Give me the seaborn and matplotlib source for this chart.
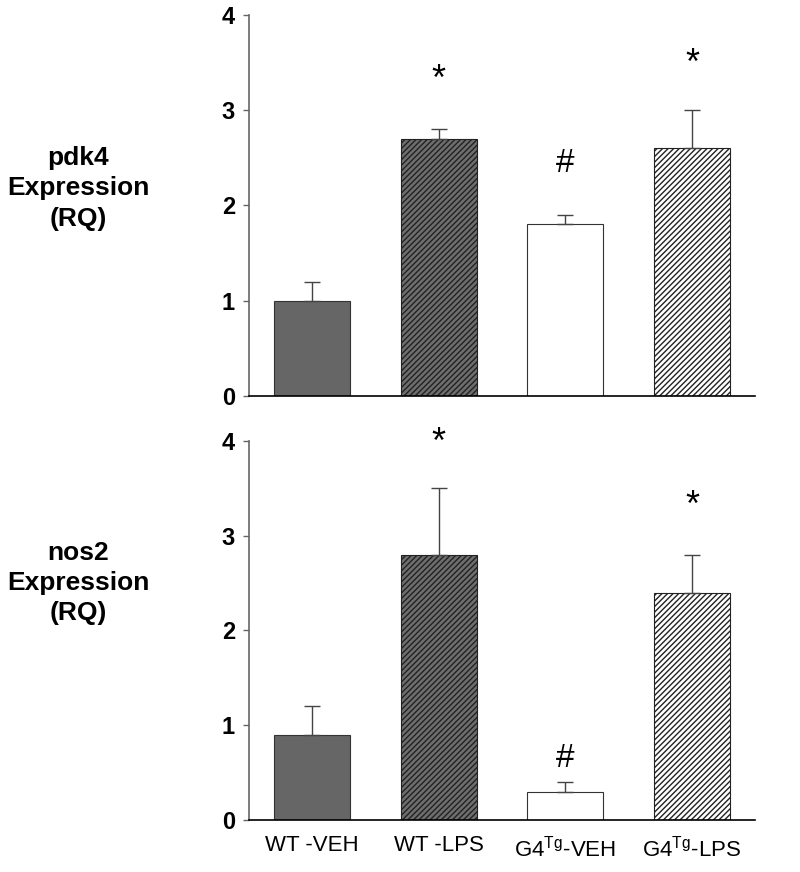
import numpy as np
import pandas as pd
import seaborn as sns
import matplotlib.pyplot as plt

groups = ["WT -VEH", "WT -LPS", r"G4$^{\mathregular{Tg}}$-VEH", r"G4$^{\mathregular{Tg}}$-LPS"]

pdk4_mean = [1.0, 2.7, 1.8, 2.6]
pdk4_sem = [0.2, 0.1, 0.1, 0.4]
pdk4_marks = ["", "*", "#", "*"]
pdk4_mark_y = [0, 3.21, 2.35, 3.38]

nos2_mean = [0.9, 2.8, 0.3, 2.4]
nos2_sem = [0.3, 0.7, 0.1, 0.4]
nos2_marks = ["", "*", "#", "*"]
nos2_mark_y = [0, 3.87, 0.56, 3.21]

bar_colors = ["#666666", "#6e6e6e", "white", "white"]
bar_hatches = [None, "//////", None, "//////"]

sns.set_style("ticks")
plt.rcParams['font.family'] = ['Liberation Sans', 'DejaVu Sans']
plt.rcParams['mathtext.fontset'] = 'custom'
plt.rcParams['mathtext.rm'] = 'Liberation Sans'
plt.rcParams['hatch.linewidth'] = 1.0
plt.rcParams['text.color'] = 'black'
plt.rcParams['xtick.labelcolor'] = 'black'
plt.rcParams['ytick.labelcolor'] = 'black'

fig = plt.figure(figsize=(8, 8.72), dpi=100)
ax1 = fig.add_axes([0.311, 0.5459, 0.633, 0.4371])
ax2 = fig.add_axes([0.311, 0.0596, 0.633, 0.4347])


def panel(ax, mean, sem, marks, mark_y, label, label_y, show_x):
    df = pd.DataFrame({"group": groups, "value": mean})
    sns.barplot(data=df, x="group", y="value", hue="group", palette=bar_colors,
                legend=False, width=0.6, edgecolor="#333333", linewidth=0.8,
                saturation=1, ax=ax)
    for patch, h in zip(ax.patches, bar_hatches):
        if h:
            patch.set_hatch(h)
            patch.set_edgecolor("#222222")
    x = np.arange(len(groups))
    ax.errorbar(x, mean, yerr=[np.zeros(len(sem)), sem], fmt="none",
                ecolor="#444444", elinewidth=1, capsize=6, capthick=1, zorder=1)
    for xi, m, yy in zip(x, marks, mark_y):
        if m:
            ax.text(xi, yy, m, ha="center", va="baseline",
                    fontsize=26 if m == "*" else 24, clip_on=False)
    ax.set_xlim(-0.5, 3.5)
    ax.set_ylim(0, 4)
    ax.set_yticks([0, 1, 2, 3, 4])
    ax.set_yticklabels(["0", "1", "2", "3", "4"], fontsize=17, fontweight="bold")
    ax.tick_params(axis="y", length=4, width=1, color="#666666", pad=6)
    ax.tick_params(axis="x", length=0, pad=11, labelsize=16)
    if not show_x:
        ax.set_xticklabels([])
    ax.set_xlabel("")
    ax.set_ylabel("")
    sns.despine(ax=ax)
    ax.spines["left"].set_color("#666666")
    ax.spines["left"].set_linewidth(1.2)
    ax.spines["bottom"].set_color("black")
    ax.spines["bottom"].set_linewidth(1.2)
    fig.text(0.0975, label_y, label, ha="center", va="center",
             fontsize=19, fontweight="bold", multialignment="center",
             linespacing=1.34)


panel(ax1, pdk4_mean, pdk4_sem, pdk4_marks, pdk4_mark_y,
      "pdk4\nExpression\n(RQ)", 0.784, False)
panel(ax2, nos2_mean, nos2_sem, nos2_marks, nos2_mark_y,
      "nos2\nExpression\n(RQ)", 0.3314, True)

fig.savefig("out.png", dpi=100)
